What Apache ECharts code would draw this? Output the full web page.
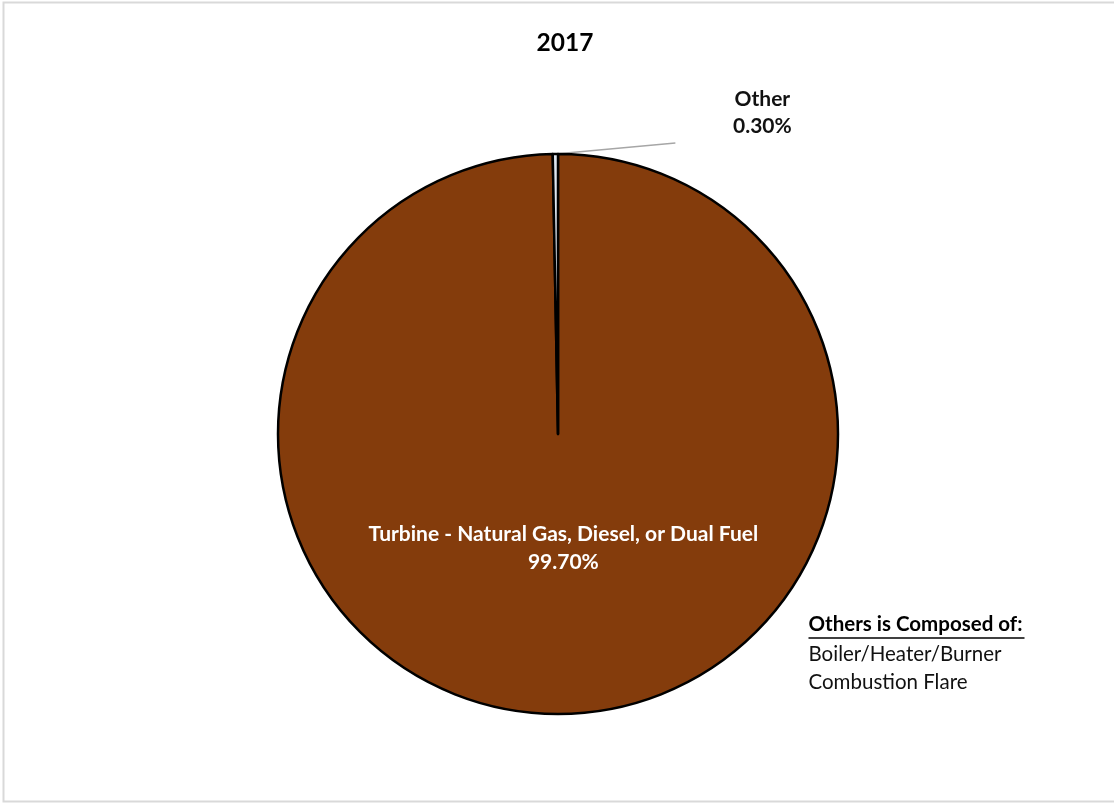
<!DOCTYPE html>
<html>
<head>
<meta charset="utf-8">
<style>
  html, body { margin: 0; padding: 0; background: #ffffff; }
  #chart { width: 1114px; height: 803px; }
</style>
<script src="https://cdn.jsdelivr.net/npm/echarts@6/dist/echarts.min.js"></script>
</head>
<body>
<div id="chart"></div>
<script>
// Combustion source shares, 2017
const chartTitle = '2017';
const categories = ['Turbine - Natural Gas, Diesel, or Dual Fuel', 'Other'];
const shares = [99.70, 0.30];
const otherComponents = ['Boiler/Heater/Burner', 'Combustion Flare'];
const noteHeading = 'Others is Composed of:';

const FONT = 'Lato, "Open Sans", sans-serif';
const sliceColors = ['#843c0c', '#dfe6ef'];

const chart = echarts.init(document.getElementById('chart'), null, { renderer: 'canvas' });

const pctLabel = p => p.name + '\n' + p.value.toFixed(2) + '%';

const data = categories.map((name, i) => ({
  name,
  value: shares[i],
  itemStyle: { color: sliceColors[i] },
  label: i === 0
    ? {
        show: true, position: 'inside', color: '#ffffff',
        fontFamily: FONT, fontWeight: 'bold', fontSize: 21, lineHeight: 28,
        formatter: pctLabel
      }
    : {
        show: true, position: 'outside', color: '#111111',
        fontFamily: FONT, fontWeight: 'bold', fontSize: 21, lineHeight: 27,
        formatter: pctLabel
      },
  labelLine: i === 0 ? { show: false } : { show: true, lineStyle: { color: '#a6a6a6', width: 1.5 } }
}));

chart.setOption({
  animation: false,
  backgroundColor: '#ffffff',
  title: {
    text: chartTitle,
    left: 560, top: 26, textAlign: 'center',
    textStyle: { fontFamily: FONT, fontWeight: 'bold', fontSize: 24.5, color: '#000000' }
  },
  graphic: [
    {
      type: 'rect', left: 1, top: 0, silent: true,
      shape: { width: 1200, height: 799 },
      style: { fill: 'none', stroke: '#d9d9d9', lineWidth: 2 }
    },
    {
      type: 'group', left: 806, top: 614,
      children: [
        {
          type: 'text', left: 0, top: 0,
          style: { text: noteHeading, fontFamily: FONT, fontWeight: 'bold', fontSize: 20.5, fill: '#000000' }
        },
        {
          type: 'line', shape: { x1: 0, y1: 24, x2: 216, y2: 24 },
          style: { stroke: '#000000', lineWidth: 1.5 }
        },
        {
          type: 'text', left: 0, top: 26,
          style: { text: otherComponents.join('\n'), fontFamily: FONT, fontSize: 20.5, lineHeight: 28, fill: '#111111' }
        }
      ]
    }
  ],
  series: [{
    type: 'pie',
    center: [558, 434],
    radius: ['0%', 280],
    startAngle: 90,
    clockwise: true,
    avoidLabelOverlap: false,
    itemStyle: { borderColor: '#000000', borderWidth: 2.5 },
    labelLine: { length: 10, length2: 20 },
    labelLayout: function (p) {
      if (p.dataIndex !== 1 || !p.labelLinePoints) {
        return { dx: 4, dy: -29 };
      }
      const start = p.labelLinePoints[0];
      return {
        x: start[0] + 207, y: start[1] - 41,
        align: 'center', verticalAlign: 'middle',
        labelLinePoints: [start, [start[0] + 120, start[1] - 11], [start[0] + 120, start[1] - 11]]
      };
    },
    emphasis: { disabled: true },
    data
  }]
});
</script>
</body>
</html>
